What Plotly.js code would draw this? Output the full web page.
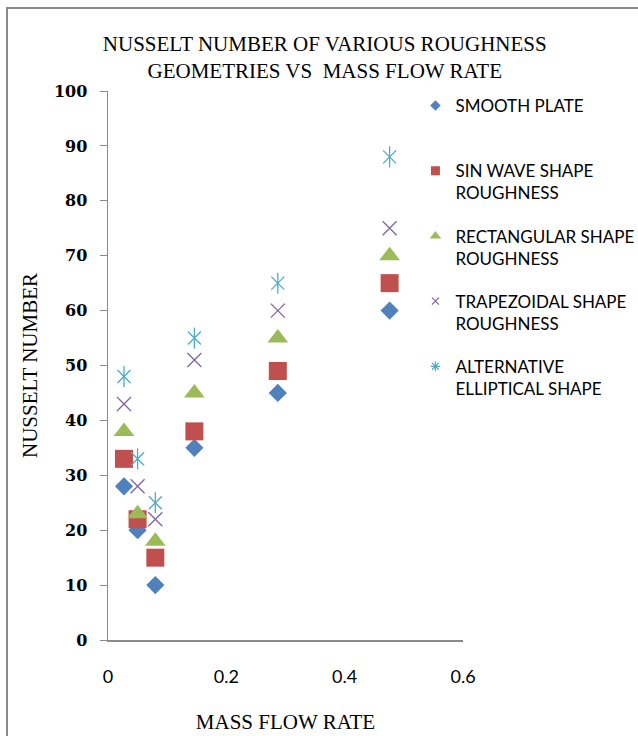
<!DOCTYPE html>
<html>
<head>
<meta charset="utf-8">
<script src="https://cdn.plot.ly/plotly-3.0.1.min.js"></script>
<style>
  html, body { margin: 0; padding: 0; background: #fff; }
  #wrap { position: relative; width: 638px; height: 736px; overflow: hidden; }
  #frame { position: absolute; left: 6px; top: 7px; width: 700px; height: 800px;
           border-left: 2px solid #8a8a8a; border-top: 2px solid #8a8a8a; pointer-events: none; }
  #chart { position: absolute; left: 0; top: 0; width: 638px; height: 736px; }
</style>
</head>
<body>
<div id="wrap">
  <div id="chart"></div>
  <div id="frame"></div>
</div>
<script>
// ---- data ----
const massFlowRate = [0.027, 0.05, 0.08, 0.146, 0.287, 0.476];
const smoothPlate = [28, 20, 10, 35, 45, 60];
const sinWave = [33, 22, 15, 38, 49, 65];
const rectangular = [38, 23, 18, 45, 55, 70];
const trapezoidal = [43, 28, 22, 51, 60, 75];
const elliptical = [48, 33, 25, 55, 65, 88];
const seriesNames = [
  'SMOOTH PLATE<br> ',
  'SIN WAVE SHAPE<br>ROUGHNESS',
  'RECTANGULAR SHAPE<br>ROUGHNESS',
  'TRAPEZOIDAL SHAPE<br>ROUGHNESS',
  'ALTERNATIVE<br>ELLIPTICAL SHAPE'
];
const xTicks = [0, 0.2, 0.4, 0.6];
const yTicks = [0, 10, 20, 30, 40, 50, 60, 70, 80, 90, 100];

const colors = ['#4F81BD', '#C0504D', '#9BBB59', '#8064A2', '#4BACC6'];

function pts(y, symbol, size, color, lw) {
  return {
    type: 'scatter', mode: 'markers', x: massFlowRate, y: y, showlegend: false,
    hoverinfo: 'skip',
    marker: { symbol: symbol, size: size, color: color, line: { color: color, width: lw || 0 } }
  };
}
function leg(i, symbol, size, lw) {
  return {
    type: 'scatter', mode: 'markers', x: [null], y: [null], name: seriesNames[i],
    legendgroup: 'g' + i, showlegend: true,
    marker: { symbol: symbol, size: size, color: colors[i], line: { color: colors[i], width: lw || 0 } }
  };
}

const data = [
  pts(smoothPlate, 'diamond', 14, colors[0]),
  pts(sinWave, 'square', 18, colors[1]),
  pts(rectangular, 'triangle-up', 18, colors[2]),
  pts(trapezoidal, 'x-thin-open', 14, colors[3], 1.3),
  pts(elliptical, 'x-thin-open', 13, colors[4], 1.3),
  pts(elliptical, 'line-ns-open', 15, colors[4], 1.3),
  leg(0, 'diamond', 8),
  leg(1, 'square', 9),
  leg(2, 'triangle-up', 10),
  leg(3, 'x-thin-open', 7, 1.2),
  leg(4, 'asterisk-open', 8, 1.2)
];

const serif = 'Liberation Serif, Times New Roman, serif';
const layout = {
  width: 638, height: 736,
  paper_bgcolor: 'rgba(0,0,0,0)', plot_bgcolor: 'rgba(0,0,0,0)',
  margin: { l: 108, r: 175, t: 91, b: 96, autoexpand: false },
  title: {
    text: 'NUSSELT NUMBER OF VARIOUS ROUGHNESS<br>GEOMETRIES VS  MASS FLOW RATE',
    x: 0.509, xanchor: 'center', y: 0.931, yanchor: 'middle',
    font: { family: serif, size: 21, color: '#000' }
  },
  xaxis: {
    range: [0, 0.6], tickvals: xTicks, ticktext: xTicks.map(String),
    showgrid: false, zeroline: false, showline: true, linecolor: '#8a8a8a', linewidth: 1.5,
    ticks: '', ticklabelstandoff: 20, automargin: false,
    tickfont: { family: 'Lato, Open Sans, sans-serif', size: 18, color: '#000' },
    title: { text: 'MASS FLOW RATE', font: { family: serif, size: 21, color: '#000' }, standoff: 28 }
  },
  yaxis: {
    range: [0, 100], tickvals: yTicks, ticktext: yTicks.map(String),
    showgrid: false, zeroline: false, showline: true, linecolor: '#8a8a8a', linewidth: 1.5,
    ticks: 'outside', ticklen: 7, tickcolor: '#8a8a8a', tickwidth: 1,
    ticklabelstandoff: 9, automargin: false,
    tickfont: { family: 'DejaVu Serif, serif', size: 16, color: '#000', weight: 'bold' },
    title: { text: 'NUSSELT NUMBER', font: { family: serif, size: 21, color: '#000' }, standoff: 10 }
  },
  legend: {
    x: 0.866, xanchor: 'left', y: 1.0055, yanchor: 'top',
    valign: 'top', tracegroupgap: 18, traceorder: 'grouped',
    font: { family: 'Lato, Open Sans, sans-serif', size: 17, color: '#000' },
    bgcolor: 'rgba(0,0,0,0)', borderwidth: 0
  },
  showlegend: true
};

Plotly.newPlot('chart', data, layout, { displayModeBar: false, staticPlot: true });
</script>
</body>
</html>
